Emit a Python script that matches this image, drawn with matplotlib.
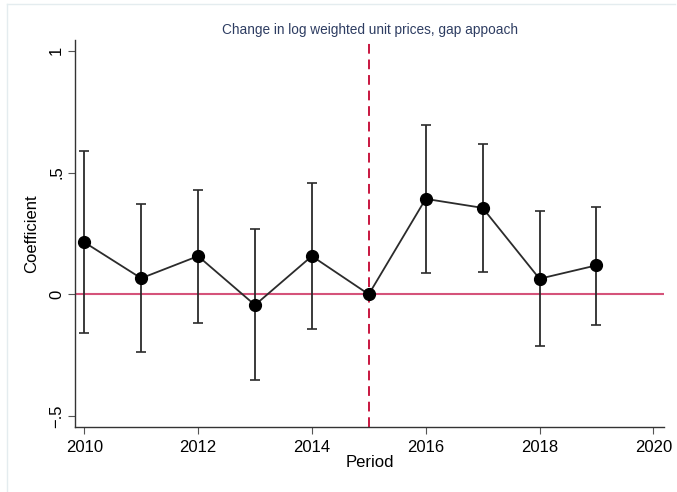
import matplotlib
matplotlib.use("Agg")
import matplotlib.pyplot as plt
from matplotlib.lines import Line2D

plt.rcParams["font.family"] = ["Liberation Sans", "DejaVu Sans"]

# event-study estimates (2015 is the reference period)
periods = [2010, 2011, 2012, 2013, 2014, 2015, 2016, 2017, 2018, 2019]
coef = [0.214, 0.066, 0.157, -0.044, 0.157, 0.0, 0.392, 0.355, 0.064, 0.119]
ci_low = [-0.157, -0.235, -0.116, -0.351, -0.143, 0.0, 0.088, 0.092, -0.214, -0.125]
ci_high = [0.590, 0.369, 0.429, 0.269, 0.458, 0.0, 0.695, 0.617, 0.343, 0.360]

x_ticks = [2010, 2012, 2014, 2016, 2018, 2020]
y_ticks = [-0.5, 0, 0.5, 1]
y_tick_labels = ["\u2212.5", "0", ".5", "1"]

W, H = 677, 492
fig = plt.figure(figsize=(W / 100, H / 100), dpi=100)

# faint graph-region border (top and left only, as in the export)
fig.lines.append(Line2D([7 / W, 675 / W], [1 - 3.5 / H, 1 - 3.5 / H], transform=fig.transFigure,
                        color="#e4ecef", linewidth=1.0))
fig.lines.append(Line2D([7 / W, 7 / W], [0, 1 - 3.5 / H], transform=fig.transFigure,
                        color="#e4ecef", linewidth=1.0))

ax = fig.add_axes([0.111, 0.132, 0.870, 0.787])

# error bars, drawn without the reference period
keep = [i for i in range(len(periods)) if ci_high[i] > ci_low[i]]
err_x = [periods[i] for i in keep]
err_c = [coef[i] for i in keep]
err_lo = [coef[i] - ci_low[i] for i in keep]
err_hi = [ci_high[i] - coef[i] for i in keep]

ax.axhline(0, color="#d5537a", linewidth=1.5, zorder=1)
ax.axvline(2015, color="#c8163f", linewidth=1.4, linestyle=(0, (5, 3)), zorder=1)
ax.errorbar(err_x, err_c, yerr=[err_lo, err_hi], fmt="none", ecolor="#2b2b2b",
            elinewidth=1.3, capsize=3.5, capthick=1.2, zorder=2)
ax.plot(periods, coef, color="#2b2b2b", linewidth=1.3, marker="o",
        markersize=8.5, markerfacecolor="black", markeredgecolor="black", zorder=3)

ax.set_xlim(2009.84, 2020.19)
ax.set_ylim(-0.545, 1.045)
ax.set_xticks(x_ticks)
ax.set_yticks(y_ticks)
ax.set_yticklabels(y_tick_labels, rotation=90, va="center")
ax.tick_params(axis="both", direction="out", length=5, width=0.8, color="#555555",
               labelsize=12, labelcolor="black")
ax.tick_params(axis="y", pad=3)
ax.tick_params(axis="x", pad=4)

for side in ["top", "right"]:
    ax.spines[side].set_visible(False)
for side in ["left", "bottom"]:
    ax.spines[side].set_color("#333333")
    ax.spines[side].set_linewidth(1.0)

ax.set_xlabel("Period", fontsize=12, labelpad=0)
ax.set_ylabel("Coefficient", fontsize=12, labelpad=7)
ax.set_title("Change in log weighted unit prices, gap appoach", fontsize=9.8,
             color="#2e3d62", pad=4)

plt.savefig("out.png", dpi=100)
